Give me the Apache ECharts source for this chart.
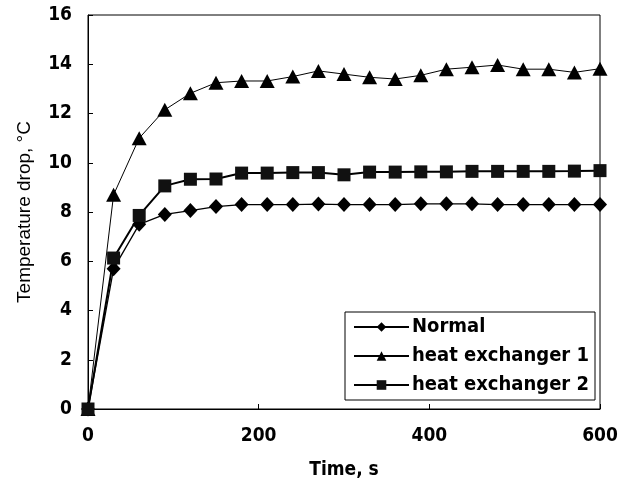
<!DOCTYPE html>
<html>
<head>
<meta charset="utf-8">
<script src="https://cdn.jsdelivr.net/npm/echarts@6/dist/echarts.min.js"></script>
<style>
html,body{margin:0;padding:0;background:#fff;}
#chart{width:624px;height:485px;}
</style>
</head>
<body>
<div id="chart"></div>
<script>
const times = [0,30,60,90,120,150,180,210,240,270,300,330,360,390,420,450,480,510,540,570,600];
const normal = [0,5.7,7.5,7.9,8.06,8.22,8.3,8.3,8.3,8.32,8.3,8.3,8.3,8.33,8.33,8.33,8.3,8.3,8.3,8.3,8.3];
const heatExchanger1 = [0,8.7,11.0,12.15,12.82,13.25,13.32,13.32,13.5,13.73,13.6,13.47,13.4,13.55,13.8,13.88,13.97,13.8,13.8,13.67,13.82];
const heatExchanger2 = [0,6.13,7.86,9.06,9.33,9.34,9.58,9.58,9.6,9.6,9.51,9.62,9.62,9.63,9.63,9.65,9.65,9.65,9.65,9.66,9.68];
const seriesNames = ['Normal','heat exchanger 1','heat exchanger 2'];
const xTicks = [0,200,400,600];
const yTicks = [0,2,4,6,8,10,12,14,16];

const cond = "'Liberation Sans Narrow','DejaVu Sans Condensed','Liberation Sans',sans-serif";
const pair = arr => times.map((t,i)=>[t,arr[i]]);

const chart = echarts.init(document.getElementById('chart'), null, {renderer:'canvas'});
chart.setOption({
  animation:false,
  backgroundColor:'#fff',
  grid:{left:88,right:24,top:15,bottom:76,show:true,borderColor:'#000',borderWidth:1,containLabel:false},
  legend:{
    orient:'vertical',left:345,top:312,width:247,
    padding:[5,6,5,8],itemGap:9,
    borderColor:'#000',borderWidth:1,backgroundColor:'#fff',
    itemWidth:55,itemHeight:12,
    textStyle:{fontFamily:cond,fontWeight:'bold',fontSize:20,color:'#000',padding:[0,0,0,-2]},
    data:seriesNames
  },
  xAxis:{
    type:'value',min:xTicks[0],max:xTicks[xTicks.length-1],interval:200,
    name:'Time, s',nameLocation:'middle',nameGap:52,
    nameTextStyle:{fontFamily:cond,fontWeight:'bold',fontSize:19,color:'#000'},
    axisLine:{lineStyle:{color:'#000',width:1}},
    axisTick:{inside:true,length:5,lineStyle:{color:'#000'}},
    axisLabel:{margin:18,fontFamily:cond,fontWeight:'bold',fontSize:19,color:'#000'},
    splitLine:{show:false}
  },
  yAxis:{
    type:'value',min:yTicks[0],max:yTicks[yTicks.length-1],interval:2,
    name:'Temperature drop, \u00B0C',nameLocation:'middle',nameGap:54,
    nameTextStyle:{fontFamily:"'Liberation Sans',Arial,sans-serif",fontSize:19,color:'#000'},
    axisLine:{lineStyle:{color:'#000',width:1}},
    axisTick:{inside:true,length:5,lineStyle:{color:'#000'}},
    axisLabel:{margin:16,fontFamily:cond,fontWeight:'bold',fontSize:19,color:'#000'},
    splitLine:{show:false}
  },
  series:[
    {name:seriesNames[0],type:'line',data:pair(normal),symbol:'diamond',symbolSize:[14,15],
     lineStyle:{color:'#000',width:1.3},itemStyle:{color:'#000'},clip:false},
    {name:seriesNames[1],type:'line',data:pair(heatExchanger1),symbol:'triangle',symbolSize:[15,14],
     lineStyle:{color:'#000',width:1},itemStyle:{color:'#000'},clip:false},
    {name:seriesNames[2],type:'line',data:pair(heatExchanger2),symbol:'rect',symbolSize:13,
     lineStyle:{color:'#000',width:2},itemStyle:{color:'#111'},clip:false}
  ]
});
</script>
</body>
</html>
